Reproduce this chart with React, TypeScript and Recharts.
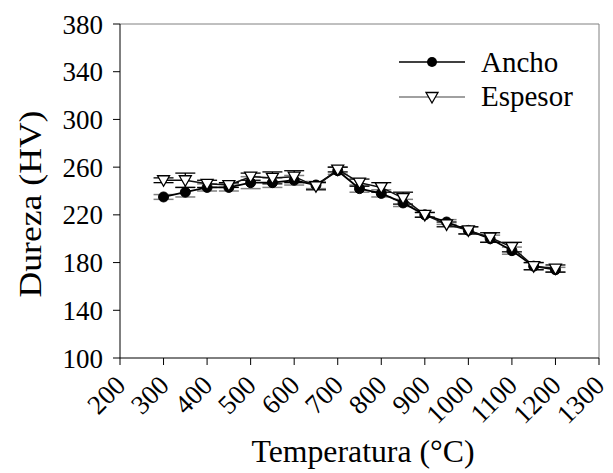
import { LineChart, Line, XAxis, YAxis, ErrorBar, ReferenceLine, Label } from 'recharts';

const temperaturas = [300, 350, 400, 450, 500, 550, 600, 650, 700, 750, 800, 850, 900, 950, 1000, 1050, 1100, 1150, 1200];
const ancho = [235, 239, 243, 243, 247, 247, 249, 245, 257, 242, 238, 230, 220, 214, 207, 200, 190, 177, 174];
const anchoErr = [2, 4, 3, 3, 5, 4, 4, 3, 3, 3, 3, 3, 2, 2, 3, 3, 3, 3, 2];
const espesor = [249, 249, 246, 245, 252, 251, 252, 244, 258, 247, 243, 234, 220, 212, 207, 201, 193, 177, 175];
const espesorErr = [2, 6, 3, 2, 3, 5, 5, 3, 2, 3, 4, 5, 2, 2, 3, 4, 4, 3, 3];

const xTicks = [200, 300, 400, 500, 600, 700, 800, 900, 1000, 1100, 1200, 1300];
const yTicks = [100, 140, 180, 220, 260, 300, 340, 380];

const data = temperaturas.map((t, i) => ({
  t,
  ancho: ancho[i],
  anchoErr: anchoErr[i],
  espesor: espesor[i],
  espesorErr: espesorErr[i],
}));

const FONT = '"Liberation Serif", "Times New Roman", serif';

const CircleDot = (props: any) => {
  const { cx, cy } = props;
  if (cx == null || cy == null) return null;
  return <circle cx={cx} cy={cy} r={5} fill="#000" stroke="#000" strokeWidth={1} />;
};

const TriangleDot = (props: any) => {
  const { cx, cy } = props;
  if (cx == null || cy == null) return null;
  return (
    <path
      d={`M${cx - 6},${cy - 4.5} L${cx + 6},${cy - 4.5} L${cx},${cy + 6} Z`}
      fill="#fff"
      stroke="#000"
      strokeWidth={1.3}
    />
  );
};

const XTick = (props: any) => {
  const { x, payload } = props;
  const ax = x + 7;
  const ay = 387;
  return (
    <text
      x={ax}
      y={ay}
      transform={`rotate(-45 ${ax} ${ay})`}
      textAnchor="end"
      fontSize={27}
      style={{ fontFamily: FONT }}
      fill="#000"
    >
      {payload.value}
    </text>
  );
};

const LegendBox = () => (
  <svg width={613} height={120} style={{ position: 'absolute', left: 0, top: 0, fontFamily: FONT }}>
    <line x1={399} y1={62} x2={465} y2={62} stroke="#000" strokeWidth={1.5} />
    <circle cx={432} cy={62} r={5} fill="#000" />
    <text x={481} y={72} fontSize={29} fill="#000">Ancho</text>
    <line x1={399} y1={97} x2={465} y2={97} stroke="#808080" strokeWidth={1.5} />
    <path d="M426,92.5 L438,92.5 L432,103 Z" fill="#fff" stroke="#000" strokeWidth={1.3} />
    <text x={481} y={106} fontSize={29} fill="#000">Espesor</text>
  </svg>
);

export default function App() {
  return (
    <div style={{ position: 'absolute', left: 0, top: 0, width: 613, height: 473, background: '#fff', fontFamily: FONT }}>
      <LineChart width={613} height={473} data={data} margin={{ top: 24, right: 14, left: 0, bottom: 0 }} style={{ fontFamily: FONT }}>
        <XAxis
          dataKey="t"
          type="number"
          domain={[200, 1300]}
          ticks={xTicks}
          interval={0}
          height={115}
          tickSize={7}
          stroke="#000"
          tick={<XTick />}
        >
          <Label
            content={() => (
              <text
                x={363}
                y={462}
                textAnchor="middle"
                fontSize={31}
                textLength={223}
                lengthAdjust="spacingAndGlyphs"
                style={{ fontFamily: FONT }}
                fill="#000"
              >
                Temperatura (°C)
              </text>
            )}
          />
        </XAxis>
        <YAxis
          type="number"
          domain={[100, 380]}
          ticks={yTicks}
          interval={0}
          width={120}
          tickSize={7}
          tickMargin={10}
          stroke="#000"
          tick={{ fontSize: 27, fill: '#000', style: { fontFamily: FONT } }}
        >
          <Label
            content={() => (
              <text
                x={41}
                y={204}
                transform="rotate(-90 41 204)"
                textAnchor="middle"
                fontSize={31}
                textLength={187}
                lengthAdjust="spacingAndGlyphs"
                style={{ fontFamily: FONT }}
                fill="#000"
              >
                Dureza (HV)
              </text>
            )}
          />
        </YAxis>
        <ReferenceLine y={380} stroke="#808080" strokeWidth={1} />
        <ReferenceLine x={1300} stroke="#808080" strokeWidth={1} />
        <Line
          type="linear"
          dataKey="ancho"
          stroke="#000"
          strokeWidth={1.8}
          dot={<CircleDot />}
          activeDot={false}
          isAnimationActive={false}
        >
          <ErrorBar dataKey="anchoErr" width={10} stroke="#808080" strokeWidth={1.5} />
        </Line>
        <Line
          type="linear"
          dataKey="espesor"
          stroke="#111"
          strokeWidth={1.5}
          dot={<TriangleDot />}
          activeDot={false}
          isAnimationActive={false}
        >
          <ErrorBar dataKey="espesorErr" width={10} stroke="#000" strokeWidth={1.3} />
        </Line>
      </LineChart>
      <LegendBox />
    </div>
  );
}
